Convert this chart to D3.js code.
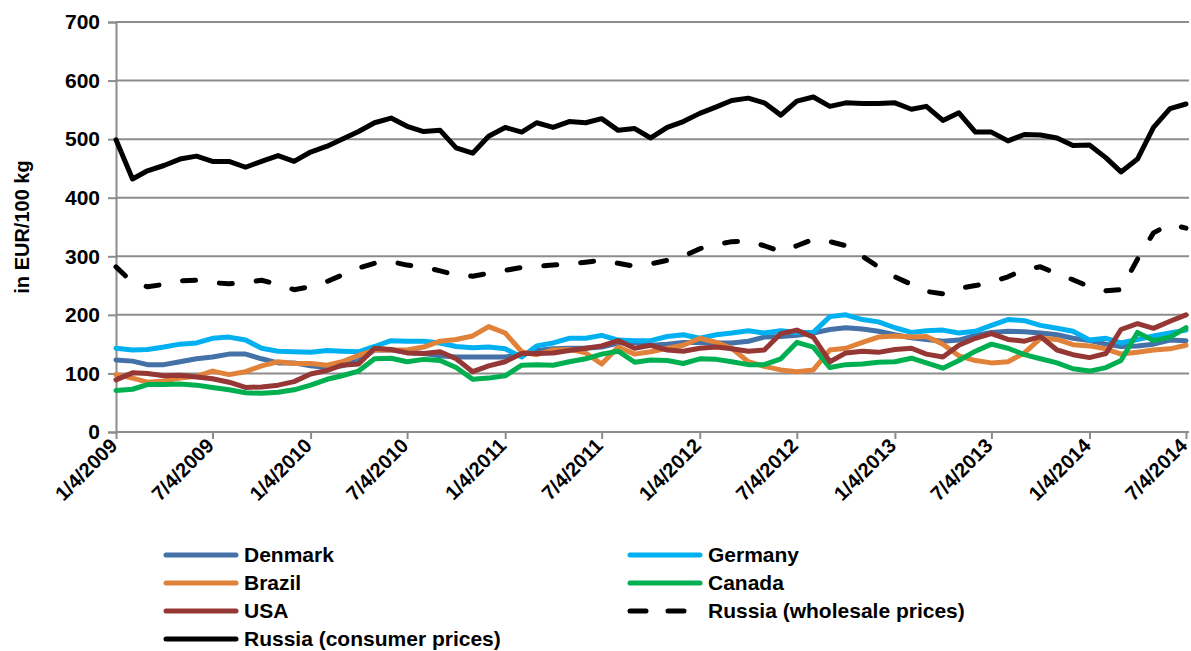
<!DOCTYPE html>
<html>
<head>
<meta charset="utf-8">
<script src="https://cdn.jsdelivr.net/npm/d3@7"></script>
<style>
  body { margin: 0; background: #fff; }
  svg { display: block; font-family: "Liberation Sans", Arial, sans-serif; font-weight: bold; }
</style>
</head>
<body>
<svg id="chart" width="1191" height="651"></svg>
<script>
// month index 0 = Jan 2009 ... 66 = Jul 2014 (values read at the 4th of each month)
const tickLabels = ["1/4/2009","7/4/2009","1/4/2010","7/4/2010","1/4/2011","7/4/2011",
                    "1/4/2012","7/4/2012","1/4/2013","7/4/2013","1/4/2014","7/4/2014"];
const yTicks = [0, 100, 200, 300, 400, 500, 600, 700];

const denmark = [123,121,115,115,120,125,128,133,133,125,118,118,113,110,113,122,140,
  140,136,134,130,128,128,128,128,132,139,142,143,143,145,152,153,148,150,153,153,152,
  152,155,162,163,165,169,175,178,176,172,166,161,158,155,157,165,170,172,171,169,166,
  160,156,150,146,147,150,157,156];
const germany = [143,140,141,145,150,152,160,162,157,143,138,137,136,139,138,137,146,
  156,155,155,152,146,144,145,142,128,147,152,160,160,165,157,156,156,163,166,160,166,
  169,173,169,173,170,170,197,200,192,188,178,170,173,174,169,172,182,192,190,182,177,
  172,157,160,152,158,164,169,174];
const brazil = [98,92,85,87,92,95,104,98,103,113,120,117,117,114,120,131,140,
  140,140,145,155,158,164,180,169,137,132,140,141,135,116,145,133,137,143,148,160,153,
  143,120,112,106,103,106,140,143,153,162,164,162,163,150,130,122,118,120,135,160,158,
  149,147,142,133,136,140,142,148];
const canada = [71,73,81,81,82,80,76,72,67,66,68,72,80,90,96,104,125,
  126,120,124,122,110,90,92,96,114,115,114,120,125,133,138,119,123,122,117,125,124,
  120,115,115,125,153,145,110,115,116,119,120,126,118,109,122,138,150,143,132,125,118,
  108,104,110,122,170,156,162,178];
const usa = [89,101,100,96,97,94,91,85,76,77,80,86,99,105,114,116,143,
  141,135,134,137,125,103,113,120,134,134,135,139,143,147,156,143,148,140,138,143,145,
  142,138,140,168,174,162,120,135,138,136,141,143,133,128,148,160,168,158,155,163,140,
  132,127,134,175,185,177,189,200];
const russiaWholesale = [282,255,248,252,258,259,255,253,255,259,252,243,248,257,268,280,288,
  291,285,282,275,268,266,271,276,281,283,285,287,290,293,288,283,287,293,300,313,320,
  325,326,318,308,318,329,325,318,300,282,265,252,240,236,245,250,256,265,278,282,270,
  260,248,241,243,295,340,355,348];
const russiaConsumer = [499,432,446,455,466,471,462,462,452,462,472,462,478,488,500,513,528,
  536,522,513,515,485,476,505,520,512,528,520,530,528,535,515,518,502,520,530,544,555,
  566,570,562,541,565,572,556,562,561,561,562,551,556,532,545,512,512,497,508,507,502,
  489,490,468,444,466,520,552,560];

const seriesNames = ["Denmark","Germany","Brazil","Canada","USA",
                     "Russia (wholesale prices)","Russia (consumer prices)"];
const seriesColors = ["#4472a8","#00b0f0","#e0823a","#00b050","#953735","#000000","#000000"];
const seriesValues = [denmark, germany, brazil, canada, usa, russiaWholesale, russiaConsumer];

const dates = d3.range(denmark.length).map(m => new Date(2009, m, 4));
const parseTick = d3.timeParse("%m/%d/%Y");
const tickDates = tickLabels.map(parseTick);

const svg = d3.select("#chart");
const plotLeft = 116, plotRight = 1186, plotTop = 22, plotBottom = 432;

const x = d3.scaleTime().domain([tickDates[0], tickDates[tickDates.length - 1]]).range([plotLeft, plotRight]);
const y = d3.scaleLinear().domain([0, 700]).range([plotBottom, plotTop]);

// gridlines
svg.append("g")
  .selectAll("line")
  .data(yTicks.slice(1))
  .enter().append("line")
  .attr("x1", plotLeft).attr("x2", 1189)
  .attr("y1", d => y(d)).attr("y2", d => y(d))
  .attr("stroke", "#8c8c8c").attr("stroke-width", 2);

// y axis
const yAxis = svg.append("g")
  .attr("transform", `translate(${plotLeft},0)`)
  .call(d3.axisLeft(y).tickValues(yTicks).tickSize(8).tickPadding(8));
yAxis.select(".domain").attr("stroke", "#8c8c8c").attr("stroke-width", 2);
yAxis.selectAll(".tick line").attr("stroke", "#8c8c8c").attr("stroke-width", 2);
yAxis.selectAll("text")
  .attr("font-size", 21).attr("font-family", "Liberation Sans, Arial, sans-serif")
  .attr("font-weight", "bold").attr("fill", "#000");

// x axis
const xAxis = svg.append("g")
  .attr("transform", `translate(0,${plotBottom})`)
  .call(d3.axisBottom(x).tickValues(tickDates).tickSize(7).tickFormat((d, i) => tickLabels[i]));
xAxis.select(".domain").attr("stroke", "#8c8c8c").attr("stroke-width", 2)
  .attr("d", `M${plotLeft},0H1189`);
xAxis.selectAll(".tick line").attr("stroke", "#8c8c8c").attr("stroke-width", 2);
xAxis.selectAll("text")
  .attr("font-size", 20).attr("font-family", "Liberation Sans, Arial, sans-serif")
  .attr("font-weight", "bold").attr("fill", "#000")
  .attr("text-anchor", "end")
  .attr("dy", null).attr("y", null)
  .attr("transform", "translate(2,15) rotate(-45)");

// y title
svg.append("text")
  .attr("transform", `translate(29,${(plotTop + plotBottom) / 2}) rotate(-90)`)
  .attr("text-anchor", "middle")
  .attr("font-size", 20)
  .text("in EUR/100 kg");

// series lines
const line = d3.line().x((d, i) => x(dates[i])).y(d => y(d));
seriesValues.forEach((vals, k) => {
  svg.append("path")
    .datum(vals)
    .attr("d", line)
    .attr("fill", "none")
    .attr("stroke", seriesColors[k])
    .attr("stroke-width", 5)
    .attr("stroke-linejoin", "round")
    .attr("stroke-linecap", "round")
    .attr("stroke-dasharray", k === 5 ? "13,24" : null);
});

// legend
const legendPos = [[166,555],[630,555],[166,583],[630,583],[166,611],[630,611],[166,639]];
seriesNames.forEach((name, k) => {
  const [lx, ly] = legendPos[k];
  const g = svg.append("g").attr("transform", `translate(${lx},${ly})`);
  g.append("line")
    .attr("x1", 0).attr("x2", 70).attr("y1", 0).attr("y2", 0)
    .attr("stroke", seriesColors[k])
    .attr("stroke-width", 5)
    .attr("stroke-linecap", "round")
    .attr("stroke-dasharray", k === 5 ? "16,22" : null);
  g.append("text")
    .attr("x", 78).attr("y", 0).attr("dy", "0.35em")
    .attr("font-size", 21)
    .text(name);
});
</script>
</body>
</html>
